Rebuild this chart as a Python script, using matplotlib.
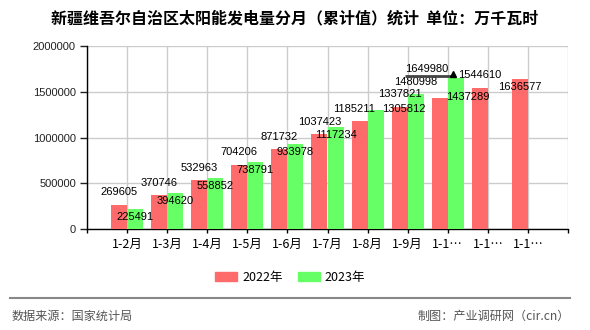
import matplotlib
matplotlib.use("Agg")
import matplotlib.pyplot as plt
from matplotlib.lines import Line2D
from matplotlib.patches import Patch
from matplotlib.transforms import offset_copy

plt.rcParams['font.family'] = ['Noto Sans CJK SC', 'DejaVu Sans']

# data (万千瓦时)
months = ['1-2月', '1-3月', '1-4月', '1-5月', '1-6月', '1-7月', '1-8月', '1-9月', '1-1…', '1-1…', '1-1…']
vals_2022 = [269605, 370746, 532963, 704206, 871732, 1037423, 1185211, 1337821, 1437289, 1544610, 1636577]
vals_2023 = [225491, 394620, 558852, 738791, 933978, 1117234, 1305812, 1480998, 1649980]

RED = '#FF6A6A'
GREEN = '#66FF66'
PX = 0.72  # points per pixel at dpi 100

fig = plt.figure(figsize=(5.9, 3.3), dpi=100)
ax = fig.add_axes([87 / 590, 1 - 229.3 / 330, (568 - 87) / 590, (229.3 - 46) / 330])

xs = list(range(1, len(months) + 1))
w = 0.4
ax.bar([x - w / 2 for x in xs], vals_2022, width=w, color=RED, zorder=3)
ax.bar([x + w / 2 for x in xs[:len(vals_2023)]], vals_2023, width=w, color=GREEN, zorder=3)

ax.set_xlim(0, 12)
ax.set_ylim(0, 2000000)

# label placement: red above, green inside top, a few moved by overlap
red_shift = {6: (-6, 12), 8: (28, 1), 10: (0, -8)}
green_shift = {6: (28, 1), 7: (0, 12), 8: (-29, 9)}
lab_font = dict(family=['Liberation Sans', 'DejaVu Sans'], fontsize=8, color='black')

for i, v in enumerate(vals_2022):
    dx, dy = red_shift.get(i, (0, 12.5))
    ax.annotate(str(v), (xs[i] - w / 2, v), xytext=(dx * PX, dy * PX), textcoords='offset points',
                ha='center', va='center', zorder=5, **lab_font)
for i, v in enumerate(vals_2023):
    dx, dy = green_shift.get(i, (0, -8))
    ax.annotate(str(v), (xs[i] + w / 2, v), xytext=(dx * PX, dy * PX), textcoords='offset points',
                ha='center', va='center', zorder=5, **lab_font)

# guide line + marker for the moved top label
top_i = len(vals_2023) - 1
px_per_x = (568 - 87) / 12
gx = xs[top_i] + w / 2
line_tr = offset_copy(ax.transData, fig=fig, x=0, y=2 * PX, units='points')
ax.plot([gx - 51 / px_per_x, gx - 2 / px_per_x], [vals_2023[top_i]] * 2, color='#444444', lw=2,
        transform=line_tr, zorder=6, clip_on=False, solid_capstyle='butt')
tr = offset_copy(ax.transData, fig=fig, x=-3 * PX, y=4.5 * PX, units='points')
ax.plot([gx], [vals_2023[top_i]], marker='^', color='black', markersize=5,
        transform=tr, zorder=6, clip_on=False)

ax.set_xticks(range(0, 13))
ax.set_xticklabels([''] + months + [''])
ax.set_yticks(range(0, 2000001, 500000))
ax.set_yticklabels([str(t) for t in range(0, 2000001, 500000)],
                   family=['Liberation Sans', 'DejaVu Sans'], fontsize=8)
ax.tick_params(axis='x', length=3, width=1, pad=3, labelsize=9, colors='black')
ax.tick_params(axis='y', length=5, width=1, pad=3, colors='#222222')
ax.grid(True, color='#cccccc', lw=1, zorder=0)
for s in ['top', 'right']:
    ax.spines[s].set_visible(False)
for s in ['left', 'bottom']:
    ax.spines[s].set_color('black')
    ax.spines[s].set_linewidth(1)

fig.text(0.5, 1 - 18 / 330, '新疆维吾尔自治区太阳能发电量分月（累计值）统计  单位：万千瓦时',
         ha='center', va='center', fontsize=11.5, fontweight='bold')

handles = [Patch(color=RED, label='2022年'), Patch(color=GREEN, label='2023年')]
fig.legend(handles=handles, loc='center', bbox_to_anchor=(290 / 590, 1 - 277.5 / 330), ncol=2,
           frameon=False, fontsize=9, handlelength=1.76, handleheight=0.72,
           handletextpad=0.4, columnspacing=1.2)

fig.add_artist(Line2D([10 / 590, 570 / 590], [1 - 298 / 330] * 2, color='#888888', lw=1.5))
fig.text(12 / 590, 1 - 316.5 / 330, '数据来源：国家统计局', ha='left', va='center', fontsize=8.7, color='#555555')
fig.text(570 / 590, 1 - 316.5 / 330, '制图：产业调研网（cir.cn）', ha='right', va='center', fontsize=8.7,
         color='#555555')

fig.savefig('out.png', dpi=100)
